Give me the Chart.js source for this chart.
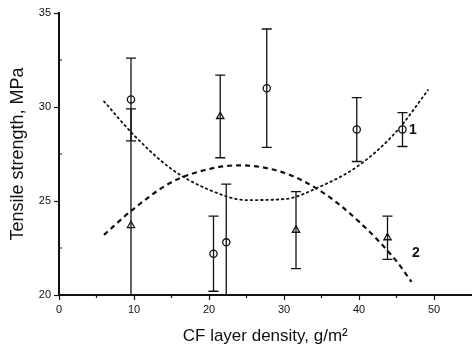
<!DOCTYPE html>
<html lang="en">
    <head>
        <meta charset="UTF-8" />
        <title>Tensile strength vs CF layer density</title>
        <script src="https://cdn.jsdelivr.net/npm/chart.js"></script>
        <style>
            html, body { margin: 0; padding: 0; background: #fff; overflow: hidden; }
            /* a little wider than the window so the x axis runs to the right edge */
            .chart-container { width: 477px; height: 349px; position: relative; }
        </style>
    </head>
    <body>
        <div class="chart-container">
            <canvas id="strengthChart"></canvas>
        </div>

        <script>
            // measured points, series 1 (circles)
            const circleX = [9.6, 20.6, 22.3, 27.7, 39.7, 45.8];
            const circleY = [30.4, 22.2, 22.8, 31.0, 28.8, 28.8];
            const circleErr = [2.2, 2.0, 3.1, 3.15, 1.7, 0.9];

            // measured points, series 2 (triangles)
            const triX = [9.6, 21.5, 31.6, 43.8];
            const triY = [23.7, 29.5, 23.45, 23.05];
            const triErr = [6.2, 2.2, 2.05, 1.15];

            // fitted curve 1 (dotted)
            const fit1X = [6, 10, 15, 20, 25, 30, 35, 40, 45, 49.2];
            const fit1Y = [30.3, 28.5, 26.7, 25.6, 25.05, 25.1, 25.8, 26.9, 28.7, 30.9];

            // fitted curve 2 (dashed)
            const fit2X = [6, 10, 15, 20, 24, 30, 35, 40, 45, 47];
            const fit2Y = [23.2, 24.6, 26.0, 26.7, 26.9, 26.5, 25.5, 23.9, 21.8, 20.7];

            // curve labels
            const curveLabels = ["1", "2"];
            const curveLabelX = [47.2, 47.6];
            const curveLabelY = [28.75, 22.2];

            const xTicks = [0, 10, 20, 30, 40, 50];
            const xMinor = [5, 15, 25, 35, 45];
            const yTicks = [20, 25, 30, 35];
            const yMinor = [22.5, 27.5, 32.5];

            const toPoints = (xs, ys) => xs.map((x, i) => ({ x: x, y: ys[i] }));

            const errorBars = {
                id: "errorBars",
                afterDatasetsDraw(chart) {
                    const { ctx, chartArea, scales } = chart;
                    const sx = scales.x, sy = scales.y;
                    ctx.save();
                    ctx.beginPath();
                    ctx.rect(chartArea.left, chartArea.top, chartArea.width, chartArea.height);
                    ctx.clip();
                    ctx.strokeStyle = "#111";
                    ctx.lineWidth = 1.3;
                    const draw = (xs, ys, errs) => {
                        xs.forEach((x, i) => {
                            const px = sx.getPixelForValue(x);
                            const top = sy.getPixelForValue(ys[i] + errs[i]);
                            const bot = sy.getPixelForValue(ys[i] - errs[i]);
                            ctx.beginPath();
                            ctx.moveTo(px, top);
                            ctx.lineTo(px, bot);
                            ctx.moveTo(px - 5, top);
                            ctx.lineTo(px + 5, top);
                            ctx.moveTo(px - 5, bot);
                            ctx.lineTo(px + 5, bot);
                            ctx.stroke();
                        });
                    };
                    draw(circleX, circleY, circleErr);
                    draw(triX, triY, triErr);
                    ctx.restore();
                },
            };

            const extras = {
                id: "extras",
                afterDraw(chart) {
                    const { ctx, chartArea, scales } = chart;
                    const sx = scales.x, sy = scales.y;
                    ctx.save();
                    ctx.strokeStyle = "#111";
                    ctx.lineWidth = 1.2;
                    ctx.beginPath();
                    xMinor.forEach((v) => {
                        const px = sx.getPixelForValue(v);
                        ctx.moveTo(px, chartArea.bottom);
                        ctx.lineTo(px, chartArea.bottom + 3);
                    });
                    yMinor.forEach((v) => {
                        const py = sy.getPixelForValue(v);
                        ctx.moveTo(chartArea.left, py);
                        ctx.lineTo(chartArea.left + 3, py);
                    });
                    ctx.stroke();
                    ctx.fillStyle = "#111";
                    ctx.font = "bold 14px 'Liberation Sans', Arial, sans-serif";
                    ctx.textAlign = "center";
                    ctx.textBaseline = "middle";
                    curveLabels.forEach((t, i) => {
                        ctx.fillText(t, sx.getPixelForValue(curveLabelX[i]), sy.getPixelForValue(curveLabelY[i]));
                    });
                    ctx.restore();
                },
            };

            const ctx = document.getElementById("strengthChart").getContext("2d");
            const font = { family: "'Liberation Sans', Arial, sans-serif", size: 11 };

            new Chart(ctx, {
                type: "scatter",
                data: {
                    datasets: [
                        {
                            label: "1",
                            data: toPoints(circleX, circleY),
                            pointStyle: "circle",
                            pointRadius: 3.6,
                            pointBackgroundColor: "#fff",
                            pointBorderColor: "#111",
                            pointBorderWidth: 1.3,
                            order: 0,
                        },
                        {
                            label: "2",
                            data: toPoints(triX, triY),
                            pointStyle: "triangle",
                            pointRadius: 4.2,
                            pointBackgroundColor: "#fff",
                            pointBorderColor: "#111",
                            pointBorderWidth: 1.3,
                            order: 0,
                        },
                        {
                            type: "line",
                            label: "fit 1",
                            data: toPoints(fit1X, fit1Y),
                            showLine: true,
                            borderColor: "#111",
                            borderWidth: 1.8,
                            borderDash: [1.6, 3.6],
                            borderCapStyle: "round",
                            cubicInterpolationMode: "monotone",
                            pointRadius: 0,
                            fill: false,
                            order: 1,
                        },
                        {
                            type: "line",
                            label: "fit 2",
                            data: toPoints(fit2X, fit2Y),
                            showLine: true,
                            borderColor: "#111",
                            borderWidth: 2.2,
                            borderDash: [5, 4],
                            cubicInterpolationMode: "monotone",
                            pointRadius: 0,
                            fill: false,
                            order: 1,
                        },
                    ],
                },
                options: {
                    responsive: true,
                    maintainAspectRatio: false,
                    animation: false,
                    layout: { padding: { top: 13, right: 0, bottom: 0, left: 0 } },
                    plugins: {
                        legend: { display: false },
                        tooltip: { enabled: false },
                    },
                    scales: {
                        x: {
                            type: "linear",
                            min: 0,
                            max: 55,
                            afterBuildTicks: (scale) => {
                                scale.ticks = xTicks.map((v) => ({ value: v }));
                            },
                            afterFit: (scale) => {
                                scale.height = 54;
                            },
                            grid: {
                                drawOnChartArea: false,
                                tickLength: 5,
                                tickColor: "#111",
                                tickWidth: 1.2,
                            },
                            border: { color: "#111", width: 2 },
                            ticks: { color: "#111", font: font, padding: 3, maxRotation: 0 },
                            title: {
                                display: true,
                                text: "CF layer density, g/m\u00b2",
                                color: "#111",
                                font: { family: font.family, size: 17 },
                                padding: { top: 0, bottom: 2 },
                            },
                        },
                        y: {
                            type: "linear",
                            min: 20,
                            max: 35,
                            afterBuildTicks: (scale) => {
                                scale.ticks = yTicks.map((v) => ({ value: v }));
                            },
                            afterFit: (scale) => {
                                scale.width = 59;
                            },
                            grid: {
                                drawOnChartArea: false,
                                tickLength: 5,
                                tickColor: "#111",
                                tickWidth: 1.2,
                            },
                            border: { color: "#111", width: 2 },
                            ticks: { color: "#111", font: font, padding: 3 },
                            title: {
                                display: true,
                                text: "Tensile strength, MPa",
                                color: "#111",
                                font: { family: font.family, size: 18 },
                                padding: { top: 7, bottom: 0 },
                            },
                        },
                    },
                },
                plugins: [errorBars, extras],
            });
        </script>
    </body>
</html>
